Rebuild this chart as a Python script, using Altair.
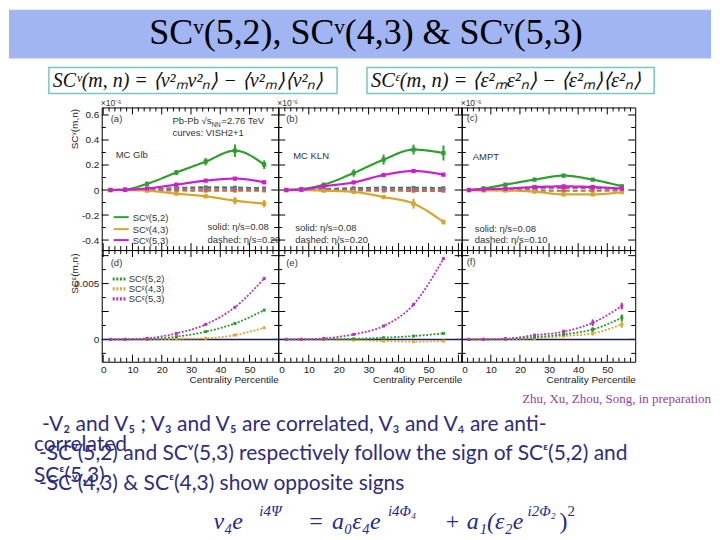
import altair as alt
import pandas as pd

# ---------------- data ----------------
cent = [2.5, 7.5, 15, 25, 35, 45, 55]

# top row: SC^v(m,n) in units of 1e-6
a52 = [0.0, 0.004, 0.05, 0.14, 0.227, 0.315, 0.203]
a43 = [0.0, 0.0, -0.005, -0.029, -0.05, -0.085, -0.109]
a53 = [0.0, 0.002, 0.013, 0.043, 0.075, 0.091, 0.062]
a52_err = [0.0, 0.0, 0.005, 0.02, 0.03, 0.05, 0.035]
a43_err = [0.0, 0.0, 0.005, 0.012, 0.01, 0.03, 0.03]
a53_err = [0.0, 0.0, 0.003, 0.008, 0.01, 0.012, 0.01]
a52_d = [0.0, 0.001, 0.006, 0.016, 0.022, 0.02, 0.014]
a43_d = [0.0, 0.0, -0.002, -0.004, -0.006, -0.006, -0.005]
a53_d = [0.0, 0.0, 0.003, 0.008, 0.01, 0.009, 0.006]

b52 = [0.0, 0.008, 0.043, 0.136, 0.243, 0.323, 0.296]
b43 = [0.0, 0.0, -0.005, -0.015, -0.056, -0.109, -0.256]
b53 = [0.0, 0.003, 0.03, 0.061, 0.12, 0.152, 0.123]
b52_err = [0.0, 0.0, 0.005, 0.03, 0.04, 0.04, 0.06]
b43_err = [0.0, 0.0, 0.003, 0.008, 0.01, 0.04, 0.02]
b53_err = [0.0, 0.0, 0.003, 0.01, 0.01, 0.01, 0.01]
b52_d = [0.0, 0.002, 0.008, 0.015, 0.018, 0.018, 0.016]
b43_d = [0.0, 0.0, -0.002, -0.004, -0.006, -0.007, -0.007]
b53_d = [0.0, 0.0, 0.003, 0.006, 0.008, 0.008, 0.006]

c52 = [0.0, 0.013, 0.043, 0.083, 0.115, 0.083, 0.03]
c43 = [0.0, -0.004, -0.004, -0.013, -0.035, -0.035, -0.017]
c53 = [0.0, 0.005, 0.011, 0.024, 0.029, 0.024, 0.011]
c52_err = [0.0, 0.005, 0.005, 0.008, 0.015, 0.008, 0.008]
c43_err = [0.0, 0.004, 0.004, 0.008, 0.01, 0.01, 0.008]
c53_err = [0.0, 0.004, 0.005, 0.01, 0.012, 0.01, 0.008]
c52_d = [0.0, 0.003, 0.008, 0.015, 0.02, 0.016, 0.01]
c43_d = [0.0, 0.0, -0.002, -0.004, -0.006, -0.006, -0.004]
c53_d = [0.0, 0.002, 0.006, 0.012, 0.016, 0.014, 0.008]

# bottom row: SC^eps(m,n)
d52 = [0.0, 0.0, 0.00003, 0.00024, 0.00069, 0.00143, 0.00262]
d43 = [0.0, 0.0, 0.0, 0.00005, 0.0001, 0.00039, 0.00104]
d53 = [0.0, 0.00001, 0.0001, 0.00054, 0.00134, 0.00288, 0.00545]

e52 = [0.0, 0.0, 0.00002, 0.00005, 0.00015, 0.0003, 0.00054]
e43 = [0.0, 0.0, -0.00002, -0.00005, -0.00015, -0.0002, -0.00015]
e53 = [0.0, 0.00001, 0.00009, 0.00045, 0.0012, 0.00312, 0.00723]

f52 = [0.0, 0.0, 0.00003, 0.0002, 0.00045, 0.00089, 0.00194]
f43 = [0.0, 0.0, 0.00001, 0.0001, 0.0003, 0.00054, 0.00134]
f53 = [0.0, 0.00001, 0.00006, 0.00038, 0.00069, 0.00149, 0.00298]
f52_err = [0.0, 0.0, 0.00002, 0.00005, 0.0001, 0.0002, 0.0003]
f43_err = [0.0, 0.0, 0.00002, 0.00005, 0.0001, 0.0002, 0.0003]
f53_err = [0.0, 0.0, 0.00002, 0.0001, 0.0002, 0.0003, 0.0003]

zeros = [0.0] * 7

x_major = [0, 10, 20, 30, 40, 50, 60]
x_minor = [v for v in range(0, 62, 2) if v % 10 != 0]
yt_major = [-0.4, -0.2, 0.0, 0.2, 0.4, 0.6]
yt_minor = [-0.3, -0.1, 0.1, 0.3, 0.5]
yb_major = [0.0, 0.0025, 0.005, 0.0075]
yb_minor = [-0.00125, 0.00125, 0.00375, 0.00625]

keys = ["52s", "43s", "53s", "52d", "43d", "53d", "52e", "43e", "53e"]
colors = ["#2f9e2f", "#d6a52c", "#cc1ecc", "#3b7f45", "#c0703c", "#9a6a9a",
          "#2e9a2e", "#d8a838", "#b437b4"]
cscale = alt.Scale(domain=keys, range=colors)
dscale = alt.Scale(domain=["s", "d", "e"], range=[[1, 0], [5, 3], [2, 1.6]])
wscale = alt.Scale(domain=["s", "d", "e"], range=[2.2, 1.8, 3.2])
sscale = alt.Scale(domain=["s", "d", "e"], range=[18, 9, 18])

ONE = alt.Data(values=[{"a": 1}])
SANS = "Liberation Sans"
SERIF = "Liberation Serif"


def make_df(items):
    rows = []
    for key, st, vals, errs in items:
        for c, v, e in zip(cent, vals, errs):
            rows.append(dict(c=c, v=v, lo=v - e, hi=v + e, k=key, st=st, err=e))
    return pd.DataFrame(rows)


def T(x, y, s, size=9.5, color="#333333", font=SANS, align="left",
      style="normal", weight="normal", baseline="alphabetic"):
    return alt.Chart(ONE).mark_text(
        text=s, fontSize=size, color=color, font=font, align=align,
        baseline=baseline, fontStyle=style, fontWeight=weight
    ).encode(x=alt.value(x), y=alt.value(y))


def R(x1, x2, y1, y2, fill, stroke=None, sw=0):
    kw = dict(fill=fill)
    if stroke:
        kw.update(stroke=stroke, strokeWidth=sw)
    return alt.Chart(ONE).mark_rect(**kw).encode(
        x=alt.value(x1), x2=alt.value(x2), y=alt.value(y1), y2=alt.value(y2))


def L(x1, x2, y, color, dash=None, sw=2):
    kw = dict(color=color, strokeWidth=sw)
    if dash:
        kw.update(strokeDash=dash)
    return alt.Chart(ONE).mark_rule(**kw).encode(
        x=alt.value(x1), x2=alt.value(x2), y=alt.value(y))


def panel(df, W, H, xdom, ydom, xaxis, yaxis, ymaj, ymin, extra, zero_line=False,
          err=True):
    def X(f):
        return alt.X(f, type="quantitative",
                     scale=alt.Scale(domain=xdom, nice=False, zero=False), axis=xaxis)

    def Y(f):
        return alt.Y(f, type="quantitative",
                     scale=alt.Scale(domain=ydom, nice=False, zero=False), axis=yaxis)

    layers = []
    xm = [v for v in x_major if xdom[0] <= v <= xdom[1]]
    xn = [v for v in x_minor if xdom[0] <= v <= xdom[1]]
    for vals, ln in ((xm, 7), (xn, 4)):
        d = pd.DataFrame({"t": vals})
        layers.append(alt.Chart(d).mark_rule(color="black", strokeWidth=1).encode(
            x=X("t"), y=alt.value(0), y2=alt.value(ln)))
        layers.append(alt.Chart(d).mark_rule(color="black", strokeWidth=1).encode(
            x=X("t"), y=alt.value(H - ln), y2=alt.value(H)))
    for vals, ln in ((ymaj, 7), (ymin, 4)):
        d = pd.DataFrame({"t": vals})
        layers.append(alt.Chart(d).mark_rule(color="black", strokeWidth=1).encode(
            y=Y("t"), x=alt.value(0), x2=alt.value(ln)))
        layers.append(alt.Chart(d).mark_rule(color="black", strokeWidth=1).encode(
            y=Y("t"), x=alt.value(W - ln), x2=alt.value(W)))
    if zero_line:
        layers.append(alt.Chart(pd.DataFrame({"t": [0.0]})).mark_rule(
            color="#1c1c5c", strokeWidth=1.5).encode(y=Y("t")))

    col = alt.Color("k:N", scale=cscale, legend=None)
    layers.append(alt.Chart(df).mark_line(interpolate="monotone").encode(
        x=X("c"), y=Y("v"), color=col,
        strokeDash=alt.StrokeDash("st:N", scale=dscale, legend=None),
        strokeWidth=alt.StrokeWidth("st:N", scale=wscale, legend=None),
        detail="k:N"))
    if err:
        de = df[df["err"] > 0]
        layers.append(alt.Chart(de).mark_rule(strokeWidth=2).encode(
            x=X("c"), y=Y("lo"), y2="hi", color=col))
    layers.append(alt.Chart(df).mark_square(opacity=1).encode(
        x=X("c"), y=Y("v"), color=col,
        size=alt.Size("st:N", scale=sscale, legend=None)))
    layers += extra
    return alt.layer(*layers).properties(width=W, height=H)


Wa, Wb, Wc = 177, 184, 174
Ht, Hb = 143, 112
xda, xdb, xdc = [-0.5, 59.8], [-0.2, 61.1], [0.0, 59.6]
ydt, ydb = [-0.48, 0.66], [-0.002, 0.008]

lab = dict(labelFont=SANS, labelFontSize=10, labelColor="#222222")
ttl = dict(titleFont=SANS, titleFontSize=10, titleFontWeight="normal",
           titleColor="#222222")

y_top_axis = alt.Axis(values=yt_major, labelPadding=3,
                      labelExpr="datum.value == 0 ? '0' : replace(format(datum.value, '.1f'), '\u2212', '-')",
                      title="SC\u1d5b(m,n)", titleX=-24, titleY=1, titleAngle=270,
                      titleAlign="right", titleBaseline="alphabetic", **lab, **ttl)
y_bot_axis = alt.Axis(values=[0.0, 0.005], labelPadding=3, format=".3~f",
                      title="SC\u1d4b(m,n)", titleX=-24, titleY=3, titleAngle=270,
                      titleAlign="right", titleBaseline="alphabetic", **lab, **ttl)


def x_bot_axis(W):
    return alt.Axis(values=[0, 10, 20, 30, 40, 50], format="d", labelPadding=3,
                    title="Centrality Percentile", titleX=W, titleY=21,
                    titleAlign="right", titleBaseline="alphabetic", **lab, **ttl)


X6 = "\u00d710\u207b\u2076"
NAVY = "#2e2c7e"
FBLUE = "#27278f"

# ---------- decorations (relative to panel a origin) ----------
deco = [
    R(-93, 611, -98, -49, "#a1b5f3"),
    T(265, -64, "SC\u1d5b(5,2), SC\u1d5b(4,3) & SC\u1d5b(5,3)", size=36, color="#000000",
      font=SERIF, align="center"),
    R(-53, 236, -40, -14, "#ffffff", "#72c9c2", 1.5),
    R(266, 554, -40, -14, "#ffffff", "#72c9c2", 1.5),
    T(-49, -21, "SC\u1d5b(m, n) = \u27e8v\u00b2\u2098v\u00b2\u2099\u27e9 \u2212 \u27e8v\u00b2\u2098\u27e9\u27e8v\u00b2\u2099\u27e9",
      size=20, color="#111111", font=SERIF, style="italic"),
    T(270, -21, "SC\u1d4b(m, n) = \u27e8\u03b5\u00b2\u2098\u03b5\u00b2\u2099\u27e9 \u2212 \u27e8\u03b5\u00b2\u2098\u27e9\u27e8\u03b5\u00b2\u2099\u27e9",
      size=20.5, color="#111111", font=SERIF, style="italic"),
    # citation and bullets
    T(611, 296, "Zhu, Xu, Zhou, Song, in preparation", size=13, color="#9a3c9a",
      font=SERIF, align="right"),
    T(-60, 324, " -V\u2082 and V\u2085 ; V\u2083 and V\u2085 are correlated, V\u2083 and V\u2084 are anti-",
      size=21, color=NAVY, font="Lato"),
    T(-68, 345, "correlated", size=21, color=NAVY, font="Lato"),
    T(-63, 354, "-SC\u1d5b(5,2) and SC\u1d5b(5,3) respectively follow the sign of SC\u1d4b(5,2) and",
      size=21, color=NAVY, font="Lato"),
    T(-68, 376, "SC\u1d4b(5,3)", size=21, color=NAVY, font="Lato"),
    T(-63, 384, "-SC\u1d5b(4,3) & SC\u1d4b(4,3) show opposite signs",
      size=21, color=NAVY, font="Lato"),
    # bottom formula
    T(112, 423, "v\u2084e", size=24, color=FBLUE, font=SERIF, style="italic"),
    T(158, 410, "i4\u03a8", size=15, color=FBLUE, font=SERIF, style="italic"),
    T(208, 423, "=", size=24, color=FBLUE, font=SERIF),
    T(231, 423, "a\u2080\u03b5\u2084e", size=24, color=FBLUE, font=SERIF, style="italic"),
    T(287, 410, "i4\u03a6\u2084", size=15, color=FBLUE, font=SERIF, style="italic"),
    T(345, 423, "+", size=24, color=FBLUE, font=SERIF),
    T(366, 423, "a\u2081(\u03b5\u2082e", size=24, color=FBLUE, font=SERIF, style="italic"),
    T(427, 410, "i2\u03a6\u2082", size=15, color=FBLUE, font=SERIF, style="italic"),
    T(459, 423, ")", size=24, color=FBLUE, font=SERIF),
    T(467, 410, "2", size=15, color=FBLUE, font=SERIF),
]

a_text = [
    T(-1, -1, X6, size=8.5),
    T(9, 15, "(a)"),
    T(71, 17, "Pb-Pb \u221as"), T(110, 20, "NN", size=6.5), T(120, 17, "=2.76 TeV"),
    T(71, 29, "curves: VISH2+1"),
    T(14, 51, "MC Glb"),
    T(106, 123, "solid: \u03b7/s=0.08"),
    T(106, 136, "dashed: \u03b7/s=0.20"),
    L(12, 27, 110, colors[0]), T(31, 113.5, "SC\u1d5b(5,2)"),
    L(12, 27, 122, colors[1]), T(31, 125.5, "SC\u1d5b(4,3)"),
    L(12, 27, 133, colors[2]), T(31, 136.5, "SC\u1d5b(5,3)"),
]
b_text = [
    T(-1, -1, X6, size=8.5),
    T(8, 15, "(b)"),
    T(15, 52, "MC KLN"),
    T(17, 124, "solid: \u03b7/s=0.08"),
    T(17, 136, "dashed: \u03b7/s=0.20"),
]
c_text = [
    T(-1, -1, X6, size=8.5),
    T(5, 14, "(c)"),
    T(11, 53, "AMPT"),
    T(13, 125, "solid: \u03b7/s=0.08"),
    T(13, 136, "dashed: \u03b7/s=0.10"),
]
d_text = [
    T(9, 16, "(d)"),
    L(11, 24, 29, colors[6], [2, 1.6], 3.2), T(27, 32.5, "SC\u1d4b(5,2)"),
    L(11, 24, 39, colors[7], [2, 1.6], 3.2), T(27, 42.5, "SC\u1d4b(4,3)"),
    L(11, 24, 49, colors[8], [2, 1.6], 3.2), T(27, 52.5, "SC\u1d4b(5,3)"),
]
e_text = [T(8, 16, "(e)")]
f_text = [T(5, 15, "(f)")]


def top_items(s52, s43, s53, e52_, e43_, e53_, d52_, d43_, d53_):
    return make_df([
        ("52d", "d", d52_, zeros), ("43d", "d", d43_, zeros), ("53d", "d", d53_, zeros),
        ("52s", "s", s52, e52_), ("43s", "s", s43, e43_), ("53s", "s", s53, e53_),
    ])


dfa = top_items(a52, a43, a53, a52_err, a43_err, a53_err, a52_d, a43_d, a53_d)
dfb = top_items(b52, b43, b53, b52_err, b43_err, b53_err, b52_d, b43_d, b53_d)
dfc = top_items(c52, c43, c53, c52_err, c43_err, c53_err, c52_d, c43_d, c53_d)
dfd = make_df([("43e", "e", d43, zeros), ("52e", "e", d52, zeros), ("53e", "e", d53, zeros)])
dfe = make_df([("43e", "e", e43, zeros), ("52e", "e", e52, zeros), ("53e", "e", e53, zeros)])
dff = make_df([("43e", "e", f43, f43_err), ("52e", "e", f52, f52_err), ("53e", "e", f53, f53_err)])

pa = panel(dfa, Wa, Ht, xda, ydt, None, y_top_axis, yt_major, yt_minor, deco + a_text)
pb = panel(dfb, Wb, Ht, xdb, ydt, None, None, yt_major, yt_minor, b_text)
pc = panel(dfc, Wc, Ht, xdc, ydt, None, None, yt_major, yt_minor, c_text)
pd_ = panel(dfd, Wa, Hb, xda, ydb, x_bot_axis(Wa), y_bot_axis, yb_major, yb_minor, d_text,
            zero_line=True, err=False)
pe = panel(dfe, Wb, Hb, xdb, ydb, x_bot_axis(Wb), None, yb_major, yb_minor, e_text,
           zero_line=True, err=False)
pf = panel(dff, Wc, Hb, xdc, ydb, x_bot_axis(Wc), None, yb_major, yb_minor, f_text,
           zero_line=True, err=True)

chart = alt.concat(pa, pb, pc, pd_, pe, pf, columns=3, spacing=0, bounds="flush",
                   align="each").properties(padding=0).configure_view(
    stroke="black", strokeWidth=1).configure_axis(grid=False, domain=False, ticks=False)

chart.save("out.html", embed_options={"renderer": "svg", "actions": False})
